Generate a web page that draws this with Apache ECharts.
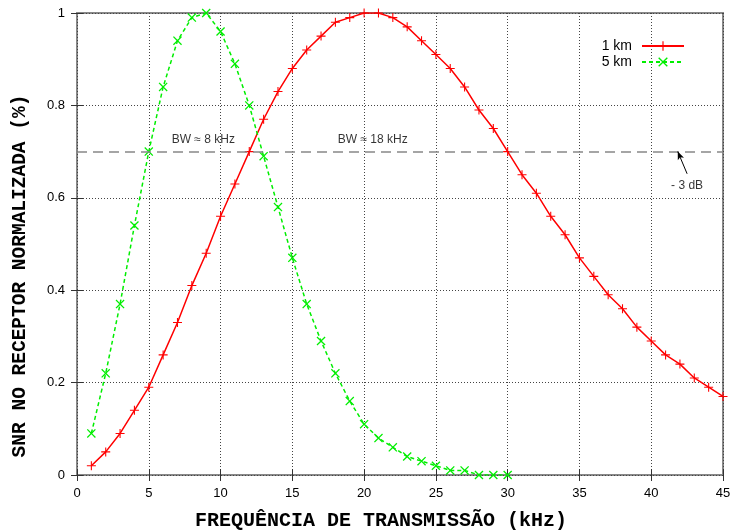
<!DOCTYPE html>
<html><head><meta charset="utf-8">
<script src="https://cdn.jsdelivr.net/npm/echarts@6/dist/echarts.min.js"></script>
<style>html,body{margin:0;padding:0;background:#fff}#c{width:732px;height:530px}</style>
</head><body><div id="c"></div>
<script>
const freq1 = [1,2,3,4,5,6,7,8,9,10,11,12,13,14,15,16,17,18,19,20,21,22,23,24,25,26,27,28,29,30,31,32,33,34,35,36,37,38,39,40,41,42,43,44,45];
const snr1km = [0.02,0.05,0.09,0.14,0.19,0.26,0.33,0.41,0.48,0.56,0.63,0.70,0.77,0.83,0.88,0.92,0.95,0.98,0.99,1.0,1.0,0.99,0.97,0.94,0.91,0.88,0.84,0.79,0.75,0.70,0.65,0.61,0.56,0.52,0.47,0.43,0.39,0.36,0.32,0.29,0.26,0.24,0.21,0.19,0.17];
const freq5 = [1,2,3,4,5,6,7,8,9,10,11,12,13,14,15,16,17,18,19,20,21,22,23,24,25,26,27,28,29,30];
const snr5km = [0.09,0.22,0.37,0.54,0.70,0.84,0.94,0.99,1.0,0.96,0.89,0.80,0.69,0.58,0.47,0.37,0.29,0.22,0.16,0.11,0.08,0.06,0.04,0.03,0.02,0.01,0.01,0.0,0.0,0.0];
const threshold = 0.7;
const xTicks = [0,5,10,15,20,25,30,35,40,45];
const yTicks = [0,0.2,0.4,0.6,0.8,1];
const annotations = [
  {text:'BW ≈ 8 kHz', x:8.8, y:0.725},
  {text:'BW ≈ 18 kHz', x:20.6, y:0.725},
  {text:'- 3 dB', x:42.5, y:0.627}
];
const arrowFrom = [42.5, 0.652];
const arrowTo = [41.85, 0.70];

const plus = 'path://M4.4,0H5.6V4.4H10V5.6H5.6V10H4.4V5.6H0V4.4H4.4Z';
const cross = 'path://M1,0L5,4L9,0L10,1L6,5L10,9L9,10L5,6L1,10L0,9L4,5L0,1Z';
const monoFont = 'Liberation Mono';
const sansFont = 'Liberation Sans';

const chart = echarts.init(document.getElementById('c'));
const axCommon = {
  axisLine:{show:false},
  axisTick:{show:true, inside:true, length:6, lineStyle:{color:'#333', width:1}},
  splitLine:{show:false}
};
chart.setOption({
  animation:false,
  grid:{left:77, right:9, top:13, bottom:55, show:true, borderColor:'#888', borderWidth:2, backgroundColor:'transparent',
    containLabel:false, outerBoundsMode:'none'},
  legend:{
    right:42, top:34, orient:'vertical', align:'right', itemGap:2,
    itemWidth:42, itemHeight:12,
    textStyle:{fontFamily:sansFont, fontSize:14, color:'#000', padding:[0,5,0,0]},
    data:['1 km','5 km']
  },
  xAxis:[
    Object.assign({type:'value', min:0, max:45, interval:5, position:'bottom',
      name:'FREQUÊNCIA DE TRANSMISSÃO (kHz)', nameLocation:'middle', nameGap:36,
      nameTextStyle:{fontFamily:monoFont, fontSize:20, fontWeight:'bold', color:'#000', padding:[0,38,0,0]},
      axisLabel:{fontFamily:sansFont, fontSize:13, color:'#000', margin:12,
        formatter:v=>xTicks.includes(v)?String(v):''}}, axCommon,
      {splitLine:{show:true, lineStyle:{type:[1,2], color:'#444', width:1}}}),
    Object.assign({type:'value', min:0, max:45, interval:5, position:'top', axisLabel:{show:false}}, axCommon)
  ],
  yAxis:[
    Object.assign({type:'value', min:0, max:1, interval:0.2, position:'left',
      name:'SNR NO RECEPTOR NORMALIZADA (%)', nameLocation:'middle', nameGap:47,
      nameTextStyle:{fontFamily:monoFont, fontSize:19.5, fontWeight:'bold', color:'#000', padding:[0,64,0,0]},
      axisLabel:{fontFamily:sansFont, fontSize:13, color:'#000', margin:12,
        formatter:v=>{const t=yTicks.find(k=>Math.abs(k-v)<1e-9);return t===undefined?'':String(t);}}}, axCommon,
      {splitLine:{show:true, lineStyle:{type:[1,2], color:'#444', width:1}}}),
    Object.assign({type:'value', min:0, max:1, interval:0.2, position:'right', axisLabel:{show:false}}, axCommon)
  ],
  series:[
    {name:'1 km', type:'line', data:freq1.map((f,i)=>[f,snr1km[i]]),
      symbol:plus, symbolSize:9, showAllSymbol:true,
      lineStyle:{color:'#ff0000', width:1.5}, itemStyle:{color:'#ff0000'}, z:3},
    {name:'5 km', type:'line', data:freq5.map((f,i)=>[f,snr5km[i]]),
      symbol:cross, symbolSize:9, showAllSymbol:true,
      lineStyle:{color:'#00ee00', width:1.5, type:[4,3]}, itemStyle:{color:'#00ee00'}, z:4},
    {name:'annot', type:'scatter', data:annotations.map(a=>[a.x,a.y,a.text]),
      symbolSize:0, silent:true, z:5,
      label:{show:true, position:'inside', formatter:p=>p.data[2], fontFamily:sansFont, fontSize:12, color:'#000'},
      markLine:{silent:true, symbol:'none', animation:false,
        lineStyle:{color:'#888', width:1.5, type:[10,6]}, label:{show:false},
        data:[
          {yAxis:threshold},
          [{coord:arrowFrom, symbol:'none', lineStyle:{color:'#000', width:1, type:'solid'}},
           {coord:arrowTo, symbol:'arrow', symbolSize:[5,8]}]
        ]}}
  ]
});
</script></body></html>
